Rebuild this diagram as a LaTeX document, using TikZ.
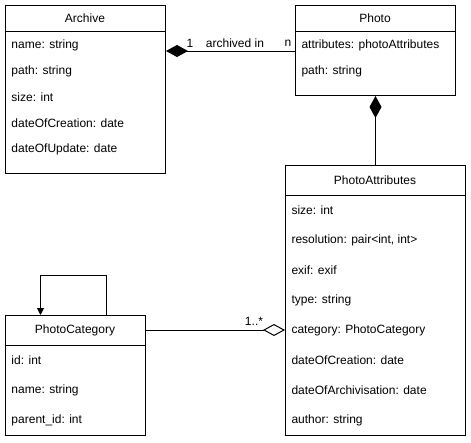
\documentclass[tikz,border=0pt]{standalone}
\usepackage{fontspec}
\setmainfont{Liberation Sans}
\usetikzlibrary{arrows.meta}
\begin{document}
\begin{tikzpicture}[x=1pt,y=-1pt,line width=1pt,
  box/.style={draw,rectangle,inner sep=0pt,anchor=north west},
  txt/.style={font=\fontsize{12}{14}\selectfont,inner sep=0pt,anchor=west},
  hdr/.style={font=\fontsize{12}{14}\selectfont,inner sep=0pt},
  lbl/.style={font=\fontsize{12}{14}\selectfont,inner sep=0pt},
  comp/.style={{Diamond[length=22pt,width=12pt]}-},
  aggr/.style={-{Diamond[open,length=22pt,width=12pt,fill=white]}},
  selfarr/.style={-{Triangle[length=7pt,width=7pt]}}]
\useasboundingbox (0,0) rectangle (471,442);

% Archive
\node[box,minimum width=160pt,minimum height=168pt] (archive) at (5,5) {};
\draw ([yshift=-26pt]archive.north west) -- ([yshift=-26pt]archive.north east);
\node[hdr] (archiveh) at (85,18) {Archive};
\node[txt] (a1) at (11,45) {name: string};
\node[txt] (a2) at (11,71) {path: string};
\node[txt] (a3) at (11,97) {size: int};
\node[txt] (a4) at (11,123) {dateOfCreation: date};
\node[txt] (a5) at (11,149) {dateOfUpdate: date};

% Photo
\node[box,minimum width=160pt,minimum height=90pt] (photo) at (295,5) {};
\draw ([yshift=-26pt]photo.north west) -- ([yshift=-26pt]photo.north east);
\node[hdr] (photoh) at (375,18) {Photo};
\node[txt] (p1) at (301,45) {attributes: photoAttributes};
\node[txt] (p2) at (301,71) {path: string};

% PhotoAttributes
\node[box,minimum width=180pt,minimum height=270pt] (pattr) at (285,165) {};
\draw ([yshift=-30pt]pattr.north west) -- ([yshift=-30pt]pattr.north east);
\node[hdr] (pattrh) at (375,180) {PhotoAttributes};
\node[txt] (t1) at (291,210) {size: int};
\node[txt] (t2) at (291,240) {resolution: pair<int, int>};
\node[txt] (t3) at (291,270) {exif: exif};
\node[txt] (t4) at (291,300) {type: string};
\node[txt] (t5) at (291,330) {category: PhotoCategory};
\node[txt] (t6) at (291,360) {dateOfCreation: date};
\node[txt] (t7) at (291,390) {dateOfArchivisation: date};
\node[txt] (t8) at (291,420) {author: string};

% PhotoCategory
\node[box,minimum width=140pt,minimum height=120pt] (pcat) at (5,315) {};
\draw ([yshift=-30pt]pcat.north west) -- ([yshift=-30pt]pcat.north east);
\node[hdr] (pcath) at (75,330) {PhotoCategory};
\node[txt] (c1) at (11,360) {id: int};
\node[txt] (c2) at (11,390) {name: string};
\node[txt] (c3) at (11,420) {parent\_id: int};

% connectors
\draw[comp] ([yshift=-46pt]archive.north east) -- ([yshift=-46pt]photo.north west);
\node[lbl] (m1) at (190,43) {1};
\node[lbl] (mlab) at (235,43) {archived in};
\node[lbl] (mn) at (288,43) {n};

\draw[comp] (photo.south) -- (pattr.north);

\draw[aggr] ([yshift=-15pt]pcat.north east) -- ([yshift=-165pt]pattr.north west);
\node[lbl] (m2) at (254,321) {1..*};

\draw[selfarr] ([xshift=31pt]pcat.north) -- ++(0,-40) -| ([xshift=-35pt]pcat.north);
\end{tikzpicture}
\end{document}
